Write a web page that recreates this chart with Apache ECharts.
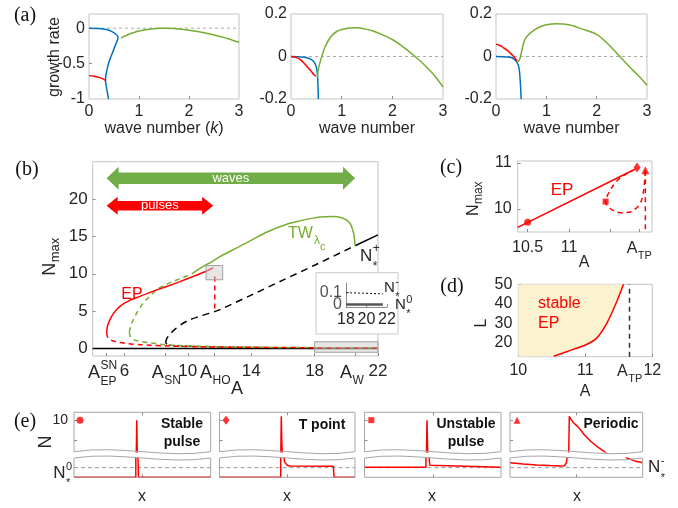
<!DOCTYPE html>
<html><head><meta charset="utf-8">
<script src="https://cdn.jsdelivr.net/npm/echarts@6/dist/echarts.min.js"></script>
<style>html,body{margin:0;padding:0;background:#fff}#c{width:678px;height:508px}</style>
</head><body><div id="c"></div>
<script>
// ================= DATA =================
// (a) growth rate vs wave number k
const a1Blue = [[0,0],[0.2,-0.004],[0.35,-0.02],[0.45,-0.045],[0.52,-0.075],[0.57,-0.11],[0.58,-0.14],[0.55,-0.2],[0.49,-0.31],[0.44,-0.4],[0.39,-0.5],[0.36,-0.59],[0.335,-0.68],[0.33,-0.74],[0.345,-0.82],[0.365,-0.9],[0.39,-1.0]];
const a1Red = [[0,-0.67],[0.1,-0.678],[0.2,-0.695],[0.28,-0.715],[0.335,-0.74]];
const a1Green = [[0.64,-0.14],[0.7,-0.115],[0.8,-0.085],[0.9,-0.06],[1.0,-0.04],[1.2,-0.015],[1.4,-0.002],[1.55,0],[1.7,-0.005],[1.9,-0.02],[2.1,-0.04],[2.3,-0.065],[2.5,-0.095],[2.7,-0.13],[2.85,-0.165],[3.0,-0.2]];
const a2Blue = [[0,0],[0.2,-0.002],[0.31,-0.006],[0.4,-0.014],[0.46,-0.028],[0.5,-0.05],[0.52,-0.08],[0.53,-0.12],[0.54,-0.2]];
const a2Red = [[0,0],[0.1,-0.004],[0.18,-0.014],[0.26,-0.032],[0.34,-0.054],[0.4,-0.07],[0.45,-0.085],[0.49,-0.093]];
const a2Green = [[0.52,-0.1],[0.54,-0.06],[0.57,-0.03],[0.62,0.01],[0.67,0.045],[0.75,0.08],[0.83,0.104],[0.92,0.12],[1.02,0.128],[1.15,0.134],[1.3,0.135],[1.45,0.13],[1.62,0.12],[1.8,0.103],[2.0,0.08],[2.2,0.048],[2.45,0],[2.7,-0.055],[2.85,-0.095],[3.0,-0.143]];
const a3Red = [[0,0.057],[0.08,0.052],[0.15,0.041],[0.22,0.03],[0.28,0.017],[0.35,0.0],[0.42,-0.022]];
const a3Blue = [[0,0],[0.22,-0.002],[0.3,-0.005],[0.35,-0.011],[0.4,-0.022],[0.45,-0.046],[0.47,-0.08],[0.48,-0.11],[0.49,-0.15],[0.5,-0.2]];
const a3Green = [[0.43,-0.025],[0.46,-0.018],[0.48,-0.006],[0.51,0.025],[0.55,0.065],[0.6,0.09],[0.68,0.11],[0.78,0.128],[0.88,0.14],[1.0,0.149],[1.2,0.154],[1.47,0.148],[1.7,0.13],[2.0,0.104],[2.25,0.053],[2.46,0],[2.7,-0.06],[2.85,-0.095],[3.0,-0.135]];
const aZero = [[0,0],[3,0]];

// (b) N_max vs A
const bEPstable = [[4.88,2.09],[4.92,2.9],[5.09,3.87],[5.35,4.8],[5.72,5.65],[6.3,6.4],[6.98,6.98],[7.8,7.65],[8.67,8.3],[9.5,8.95],[10.35,9.65],[11.0,10.2],[11.6,10.8]];
const bEPlower = [[4.88,2.09],[4.93,1.6],[5.09,1.2],[5.5,0.88],[6.14,0.67],[7,0.52],[7.6,0.45],[8.5,0.36],[10,0.27],[12,0.2],[14,0.16],[16,0.13],[18,0.11],[22,0.09]];
const bEPdrop = [[11.7,9.65],[11.7,5.0]];
const bTWunstable = [[6.31,2.18],[6.4,3.0],[6.56,3.87],[6.85,5.0],[7.19,6.1],[7.6,7.0],[8.04,7.88],[8.55,8.5],[9.09,8.99],[9.7,9.5],[10.25,9.97]];
const bTWstable = [[10.25,9.97],[10.6,10.5],[10.98,11.0],[11.5,11.6],[12.03,12.3],[12.7,13.05],[13.3,13.7],[14.1,14.6],[15.0,15.6],[16.2,16.6],[17.0,17.05],[17.9,17.45],[18.6,17.62],[19.2,17.66],[19.7,17.5],[20.0,17.2],[20.25,16.7],[20.4,15.9],[20.5,15.0],[20.55,13.75]];
const bTWlower = [[6.31,2.18],[6.37,1.6],[6.56,1.2],[7,0.95],[7.6,0.76],[8.3,0.58],[9.1,0.45],[10,0.36],[12,0.24],[14,0.18],[16,0.14],[18,0.12],[22,0.1]];
const bNplusUnstable = [[8.6,0.76],[8.65,1.2],[8.77,1.65],[9.2,2.6],[9.93,3.65],[10.8,4.35],[11.7,4.95],[12.03,5.2],[14,7.15],[16,9.15],[18,11.15],[20.55,13.75]];
const bNplusStable = [[20.55,13.75],[22,15.2]];
const bNminus = [[8.6,0.76],[8.75,0.5],[9.2,0.38],[10,0.3],[12,0.2],[14,0.15],[16,0.12],[18,0.1],[22,0.09]];
const bNzero = [[4,0],[22,0]];
const bXLabels = [6,10,14,18,22];
const bXTicks = [4.88,6,8.6,10,11.7,14,18,20.55,22];
const bYLabels = [0,5,10,15,20];
// arrows: range in A at height N
const arrowStart = [4.88, 4.88];
const arrowEnd = [20.55, 11.6];
const arrowN = [22.8, 19.1];
const arrowLabel = ['waves', 'pulses'];
// zoom boxes [A0, N0, A1, N1]
const zoomBoxes = [[11.15, 9.2, 12.2, 11.1], [18, -0.5, 22, 0.9]];
// inset
const insNminus = [[18,0.1],[19,0.097],[20,0.094],[21,0.091],[21.6,0.09]];
const insNzero = [[18,0],[21.6,0]];
const insYLabels = [0, 0.1];

// (c) zoom near A_TP
const cEP = [[10.38,9.6],[11.77,10.84]];
const cLoop = [[11.8,10.87],[11.71,10.78],[11.62,10.68],[11.55,10.55],[11.5,10.42],[11.46,10.28],[11.44,10.16],[11.47,10.05],[11.53,9.97],[11.62,9.92],[11.72,9.93],[11.8,10.0],[11.86,10.13],[11.89,10.3],[11.905,10.5],[11.915,10.7],[11.92,10.84]];
const cDrop = [[11.92,10.84],[11.92,9.5]];
const cMarkA = [10.5, 11.82, 11.44, 11.92];
const cMarkN = [9.71, 10.9, 10.16, 10.84];

// (d) stability region in (A, L)
const dBoundaryA = [10.53, 10.81, 11.01, 11.17, 11.32, 11.47, 11.57];
const dBoundaryL = [13.2, 16.6, 19.1, 22.5, 30, 41.2, 50];
const dATP = 11.66;

// (e) profiles N(x)
const eStable = [[0,0],[0.452,0],[0.456,2],[0.459,10],[0.462,3],[0.466,0.3],[0.472,0],[1,0]];
const eTpoint = [[0,0],[0.452,0],[0.456,11],[0.46,4],[0.465,0.8],[0.47,0.3],[0.48,0.16],[0.5,0.125],[0.52,0.117],[0.84,0.115],[0.846,0],[1,0]];
const eUnstable = [[0,0.105],[0.45,0.105],[0.454,2],[0.458,10],[0.462,3],[0.468,0.3],[0.478,0.125],[0.49,0.105],[1,0.105]];
const ePeriodic = [[0,0.151],[0.1,0.138],[0.2,0.128],[0.3,0.121],[0.38,0.117],[0.41,0.12],[0.425,0.15],[0.435,0.25],[0.442,1],[0.447,11],[0.46,10.2],[0.48,9.3],[0.513,8.3],[0.56,6.3],[0.61,4.6],[0.66,3.2],[0.708,2.1],[0.75,1.2],[0.8,0.6],[0.85,0.3],[0.88,0.2],[0.94,0.17],[1,0.151]];
const eNminus = [[0,0.1],[1,0.1]];
const eMarkX = [0.044, 0.048, 0.05, 0.053];
const eMarkN = [10, 10, 10, 10];

// ================= STYLE / LAYOUT =================
const FONT = "'Liberation Sans', Arial, Helvetica, sans-serif";
const SERIF = "'Liberation Serif', 'Times New Roman', serif";
const TXT = '#262626', BOX = '#c4c4c4';
const BLUE = '#0072BD', RED = '#FF0000', GREEN = '#77AC30';

const grids = [], xAxes = [], yAxes = [], series = [], graphic = [];

function ax(min, max, o = {}) {
  const a = {type:'value', min, max, splitLine:{show:false},
    axisLine:{show:!!o.line, onZero:false, lineStyle:{color:o.lineColor||BOX, width:1}},
    axisTick:{show:!!o.ticks, inside:true, length:o.tl||3, lineStyle:{color:'#8c8c8c'}},
    axisLabel:{show:!!o.labels, fontSize:o.fs||16, fontFamily:FONT, color:TXT, margin:(o.m!=null?o.m:5),
      hideOverlap:false, interval:0,
      formatter:(v)=>String(+(+v).toFixed(6)), showMinLabel:true, showMaxLabel:true}};
  if (o.ticks) a.axisTick.customValues = o.ticks;
  if (o.labels) a.axisLabel.customValues = o.labels;
  if (o.pos) a.position = o.pos;
  if (o.z) a.z = o.z;
  return a;
}
function addGrid(g, xa, ya) {
  grids.push(Object.assign({show:true, borderColor:BOX, borderWidth:1, backgroundColor:'transparent', containLabel:false, outerBoundsMode:'none'}, g));
  const i = grids.length - 1;
  xa.gridIndex = i; ya.gridIndex = i;
  xAxes.push(xa); yAxes.push(ya);
  return i;
}
function line(gi, data, color, o = {}) {
  series.push({type:'line', xAxisIndex:gi, yAxisIndex:gi, data, symbol:'none', showSymbol:false,
    smooth:(o.smooth!=null?o.smooth:0.3), clip:true, silent:true, animation:false, z:(o.z||2),
    lineStyle:{color, width:(o.w!=null?o.w:1.5), type:(o.type||'solid'), opacity:(o.op!=null?o.op:1)},
    areaStyle:o.area});
}

// ---- (a) ----
const aTop = 14, aH = 85;
const gA1 = addGrid({left:89, top:aTop, width:150, height:aH}, ax(0,3,{labels:[0,1,2,3], ticks:[1,2], m:5}), ax(-1,0.2,{labels:[-1,-0.5,0], ticks:[-0.5,0], m:4}));
const gA2 = addGrid({left:291, top:aTop, width:152, height:aH}, ax(0,3,{labels:[0,1,2,3], ticks:[1,2], m:5}), ax(-0.2,0.2,{labels:[-0.2,0,0.2], ticks:[0], m:4}));
const gA3 = addGrid({left:496, top:aTop, width:151, height:aH}, ax(0,3,{labels:[0,1,2,3], ticks:[1,2], m:5}), ax(-0.2,0.2,{labels:[-0.2,0,0.2], ticks:[0], m:4}));
[[gA1,a1Blue,a1Red,a1Green],[gA2,a2Blue,a2Red,a2Green],[gA3,a3Blue,a3Red,a3Green]].forEach(([g,b,r,gr])=>{
  line(g, aZero, '#aaaaaa', {w:1, type:[3,3], smooth:false});
  line(g, b, BLUE, {w:1.5});
  line(g, r, RED, {w:1.5});
  line(g, gr, GREEN, {w:1.5});
});

// ---- (b) ----
const gB = addGrid({left:92.7, top:161.7, width:285.3, height:194.3},
  ax(4,22,{labels:bXLabels, ticks:bXTicks, fs:17, m:7}),
  ax(-1,25,{labels:bYLabels, ticks:bYLabels, fs:17, m:5}));
line(gB, bNzero, '#000', {w:1.5, smooth:false});
line(gB, bNminus, '#000', {w:1.3, type:[2,2]});
line(gB, bTWlower, GREEN, {w:1.5, type:[5,4]});
line(gB, bEPlower, RED, {w:1.5, type:[5,4]});
line(gB, bNplusUnstable, '#000', {w:1.5, type:[7,5]});
line(gB, bNplusStable, '#000', {w:1.5, smooth:false});
line(gB, bTWunstable, GREEN, {w:1.5, type:[5,4]});
line(gB, bTWstable, GREEN, {w:1.5});
line(gB, bEPstable, RED, {w:1.5});
line(gB, bEPdrop, RED, {w:1.5, type:[5,4], smooth:false});
const ARROW_STYLE = [{color:'#70AD47', shaft:11.5, head:23, len:12},{color:'#FF0000', shaft:9.5, head:18, len:11}];
series.push({type:'custom', xAxisIndex:gB, yAxisIndex:gB, z:6, silent:true, animation:false,
  data: arrowStart.map((s,i)=>[s, arrowEnd[i], arrowN[i]]),
  renderItem(params, api){
    const i = params.dataIndex, st = ARROW_STYLE[i];
    const p0 = api.coord([api.value(0), api.value(2)]), p1 = api.coord([api.value(1), api.value(2)]);
    const y = p0[1], x0 = p0[0], x1 = p1[0], sh = st.shaft/2, hh = st.head/2, hl = st.len;
    return {type:'group', children:[
      {type:'polygon', shape:{points:[[x0,y],[x0+hl,y-hh],[x0+hl,y-sh],[x1-hl,y-sh],[x1-hl,y-hh],[x1,y],[x1-hl,y+hh],[x1-hl,y+sh],[x0+hl,y+sh],[x0+hl,y+hh]]}, style:{fill:st.color}},
      {type:'text', x:(x0+x1)/2, y:y, style:{text:arrowLabel[i], fill:'#fff', font:`13px ${FONT}`, align:'center', verticalAlign:'middle'}}
    ]};
  }});
series.push({type:'custom', xAxisIndex:gB, yAxisIndex:gB, z:6, silent:true, animation:false,
  data: zoomBoxes,
  renderItem(params, api){
    const p0 = api.coord([api.value(0), api.value(3)]), p1 = api.coord([api.value(2), api.value(1)]);
    return {type:'rect', shape:{x:p0[0], y:p0[1], width:p1[0]-p0[0], height:p1[1]-p0[1]},
      style:{fill:'rgba(200,200,200,0.45)', stroke:'#a0a0a0', lineWidth:1}};
  }});

// inset
graphic.push({type:'rect', z:5, silent:true, shape:{x:316, y:272.7, width:82, height:61.3}, style:{fill:'#fff', stroke:'#c8c8c8', lineWidth:1}});
const gIns = addGrid({left:346, top:283, width:41, height:24, show:false},
  ax(18,22,{labels:[18,20,22], ticks:[18,20,22], fs:16, m:5, line:true, lineColor:'#8c8c8c', z:10}),
  ax(-0.02,0.18,{ticks:insYLabels, line:true, lineColor:'#8c8c8c', z:10}));
line(gIns, insNminus, '#333', {w:1.2, type:[2,2], z:10, smooth:false});
line(gIns, insNzero, '#555', {w:2.5, z:10, smooth:false});
// inset y labels placed through the inset axis scale
series.push({type:'scatter', xAxisIndex:gIns, yAxisIndex:gIns, z:11, silent:true, animation:false, symbolSize:0,
  data: insYLabels.map(v=>[18, v]),
  label:{show:true, position:'left', distance:4, formatter:(p)=>String(p.value[1]), fontSize:16, fontFamily:FONT, color:TXT}});

// ---- (c) ----
const gC = addGrid({left:517.7, top:161, width:134.3, height:71},
  ax(10.38,12.0,{labels:[10.5,11], ticks:[10.5,11,11.5,11.85], fs:16, m:8}),
  ax(9.5,11.04,{labels:[10,11], ticks:[10,11], fs:16, m:6}));
line(gC, cEP, RED, {w:1.5, smooth:false});
line(gC, cLoop, RED, {w:1.5, type:[5,4], smooth:0.4});
line(gC, cDrop, RED, {w:1.5, type:[5,4], smooth:false});
const cShapes = [['circle',7],['diamond',[7,10]],['rect',6],['triangle',8]];
series.push({type:'scatter', xAxisIndex:gC, yAxisIndex:gC, z:8, silent:true, animation:false,
  data: cMarkA.map((a,i)=>({value:[a, cMarkN[i]], symbol:cShapes[i][0], symbolSize:cShapes[i][1]})),
  itemStyle:{color:RED}});

// ---- (d) ----
const gD = addGrid({left:518.3, top:284.3, width:134, height:72.4},
  ax(10,12,{labels:[10,11,12], ticks:[10,11,dATP,12], fs:16, m:6}),
  ax(13,50,{labels:[20,30,40,50], ticks:[20,30,40,50], fs:16, m:6}));
const dCurve = dBoundaryA.map((a,i)=>[a, dBoundaryL[i]]);
line(gD, [[10,13]].concat(dCurve), '#FDF2D0', {w:0, op:0, smooth:0.3, area:{color:'#FDF2D0', opacity:1, origin:'end'}, z:1});
line(gD, dCurve, RED, {w:1.5, smooth:0.3, z:3});
line(gD, [[dATP,13],[dATP,50]], '#333', {w:1.5, type:[5,4], smooth:false, z:3});

// ---- (e) ----
const eL = [74, 219.5, 364.5, 510], eW = [136.7, 135.5, 136.5, 132.7];
const eUT = 412.3, eUB = 451.7, eLT = 458, eLB = 477.3;
const eProfiles = [eStable, eTpoint, eUnstable, ePeriodic];
const eShapes = [['circle',7],['diamond',[7,9]],['rect',6],['triangle',7]];
for (let i = 0; i < 4; i++) {
  const gu = addGrid({left:eL[i], top:eUT, width:eW[i], height:eUB-eUT, show:false},
    ax(0,1,{ticks:[0.5], pos:'top'}),
    ax(2,12,{ticks:[5,10], labels:(i===0?[10]:null), fs:14, m:6}));
  const gl = addGrid({left:eL[i], top:eLT, width:eW[i], height:eLB-eLT, show:false},
    ax(0,1,{ticks:[0.5]}),
    ax(0,0.2,{}));
  line(gl, eNminus, '#999', {w:1, type:[4,3], smooth:false});
  line(gu, eProfiles[i], RED, {w:1.5, smooth:false});
  line(gl, eProfiles[i], RED, {w:1.5, smooth:false});
  series.push({type:'scatter', xAxisIndex:gu, yAxisIndex:gu, silent:true, animation:false, z:5,
    data:[{value:[eMarkX[i], eMarkN[i]], symbol:eShapes[i][0], symbolSize:eShapes[i][1]}], itemStyle:{color:RED}});
  const L = eL[i], R = eL[i] + eW[i], W = eW[i];
  const st = {stroke:'#a6a6a6', lineWidth:1, fill:null};
  graphic.push({type:'polyline', z:4, silent:true, shape:{points:[[L,eUB],[L,eUT],[R,eUT],[R,eUB]]}, style:st});
  graphic.push({type:'bezierCurve', z:4, silent:true, shape:{x1:L,y1:eUB,cpx1:L+W/3,cpy1:eUB-7,cpx2:L+2*W/3,cpy2:eUB+7,x2:R,y2:eUB}, style:st});
  graphic.push({type:'polyline', z:4, silent:true, shape:{points:[[L,eLT],[L,eLB],[R,eLB],[R,eLT]]}, style:st});
  graphic.push({type:'bezierCurve', z:4, silent:true, shape:{x1:L,y1:eLT,cpx1:L+W/3,cpy1:eLT-7,cpx2:L+2*W/3,cpy2:eLT+7,x2:R,y2:eLT}, style:st});
}

// ================= TEXT =================
const meas = document.createElement('canvas').getContext('2d');
function textW(t, font){ meas.font = font; return meas.measureText(t).width; }
function T(text, x, y, o = {}) {
  const st = {text, font:`${o.italic?'italic ':''}${o.bold?'bold ':''}${o.size||16}px ${o.family||FONT}`,
    fill:o.color||TXT, align:o.align||'center', verticalAlign:o.va||'middle'};
  if (o.rich) st.rich = o.rich;
  return {type:'text', x, y, z:50, silent:true, rotation:o.rot||0, style:st};
}
function SS(x, y, main, sup, sub, o = {}) {
  const size = o.size||16, ss = o.ss||Math.round(size*0.7), color = o.color||TXT;
  const w = textW(main, `${size}px ${FONT}`), gap = (o.gap!=null?o.gap:0.5);
  graphic.push(T(main, x, y, {size, color, align:'left'}));
  if (sup) graphic.push(T(sup, x+w+gap, y+(o.supDy!=null?o.supDy:-6), {size:ss, color, align:'left'}));
  if (sub) graphic.push(T(sub, x+w+gap, y+(o.subDy!=null?o.subDy:7), {size:ss, color, align:'left'}));
}
function rotSub(cx, cy, main, sub, size, ss) {
  const wM = textW(main, `${size}px ${FONT}`), wS = textW(sub, `${ss}px ${FONT}`), tot = wM + wS;
  graphic.push({type:'group', x:cx, y:cy, rotation:Math.PI/2, z:50, silent:true, children:[
    T(main, -tot/2, 0, {size, align:'left'}),
    T(sub, -tot/2 + wM + 0.5, size*0.3, {size:ss, align:'left'})]});
}

// panel letters
[['(a)',25,16],['(b)',27,170],['(c)',451,168],['(d)',452,287],['(e)',25,422]].forEach(([t,x,y])=>graphic.push(T(t,x,y,{size:20,family:SERIF,color:'#111'})));
// (a)
graphic.push(T('growth rate', 55, 57, {rot:Math.PI/2, size:16}));
graphic.push(T('wave number ({k|k})', 164, 129, {size:16, rich:{k:{fontStyle:'italic', fontSize:16, fontFamily:FONT, fill:TXT, color:TXT}}}));
graphic.push(T('wave number', 367, 129, {size:16}));
graphic.push(T('wave number', 571.5, 129, {size:16}));
// (b)
rotSub(50, 257, 'N', 'max', 18, 13);
SS(88, 373, 'A', 'SN', 'EP', {size:18, ss:12, supDy:-7, subDy:9});
SS(151.7, 373, 'A', null, 'SN', {size:18, ss:12, subDy:8});
SS(200, 373, 'A', null, 'HO', {size:18, ss:12, subDy:8});
SS(340, 373, 'A', null, 'W', {size:18, ss:12, subDy:8});
graphic.push(T('A', 237, 389, {size:18}));
graphic.push(T('EP', 132, 295, {size:16, color:RED}));
(function(){
  const x = 288, y = 234; const wTW = textW('TW', `16px ${FONT}`), wL = textW('λ', `12px ${FONT}`);
  graphic.push(T('TW', x, y, {size:16, color:GREEN, align:'left'}));
  graphic.push(T('λ', x+wTW+1, y+7, {size:12, color:GREEN, align:'left'}));
  graphic.push(T('c', x+wTW+1+wL, y+13, {size:11, color:GREEN, align:'left'}));
})();
SS(360, 256.7, 'N', '+', '*', {size:17, ss:12, supDy:-8, subDy:10});
SS(384, 287.7, 'N', '-', '*', {size:15, ss:11, supDy:-6, subDy:9});
SS(395, 304.5, 'N', '0', '*', {size:15, ss:11, supDy:-5, subDy:9});
// (c)
rotSub(474, 199, 'N', 'max', 16, 12);
SS(626.7, 249, 'A', null, 'TP', {size:16, ss:11, subDy:7});
graphic.push(T('A', 584, 263, {size:16}));
graphic.push(T('EP', 562, 190, {size:17, color:RED}));
// (d)
graphic.push(T('L', 482, 323, {size:16, rot:Math.PI/2}));
SS(617, 371.7, 'A', null, 'TP', {size:16, ss:11, subDy:7});
graphic.push(T('A', 585, 392, {size:16}));
graphic.push(T('stable', 538, 304, {size:16, color:RED, align:'left'}));
graphic.push(T('EP', 538, 323.5, {size:16, color:RED, align:'left'}));
// (e)
graphic.push(T('N', 46, 442, {size:18, rot:Math.PI/2}));
SS(53.3, 473, 'N', '0', '*', {size:17, ss:11, supDy:-6, subDy:10});
SS(648, 467.5, 'N', '-', '*', {size:17, ss:11, supDy:-7, subDy:10});
[['Stable',182,424.5],['pulse',182,442],['T point',322,425],['Unstable',466,424.5],['pulse',466,442],['Periodic',611,424.5]].forEach(([t,x,y])=>graphic.push(T(t,x,y,{size:14,bold:true,color:'#111'})));
[142,287,432,577].forEach(x=>graphic.push(T('x', x, 497, {size:16})));

// ================= CHART =================
const chart = echarts.init(document.getElementById('c'), null, {renderer:'canvas'});
chart.setOption({animation:false, backgroundColor:'#fff', grid:grids, xAxis:xAxes, yAxis:yAxes, series, graphic});
</script></body></html>
